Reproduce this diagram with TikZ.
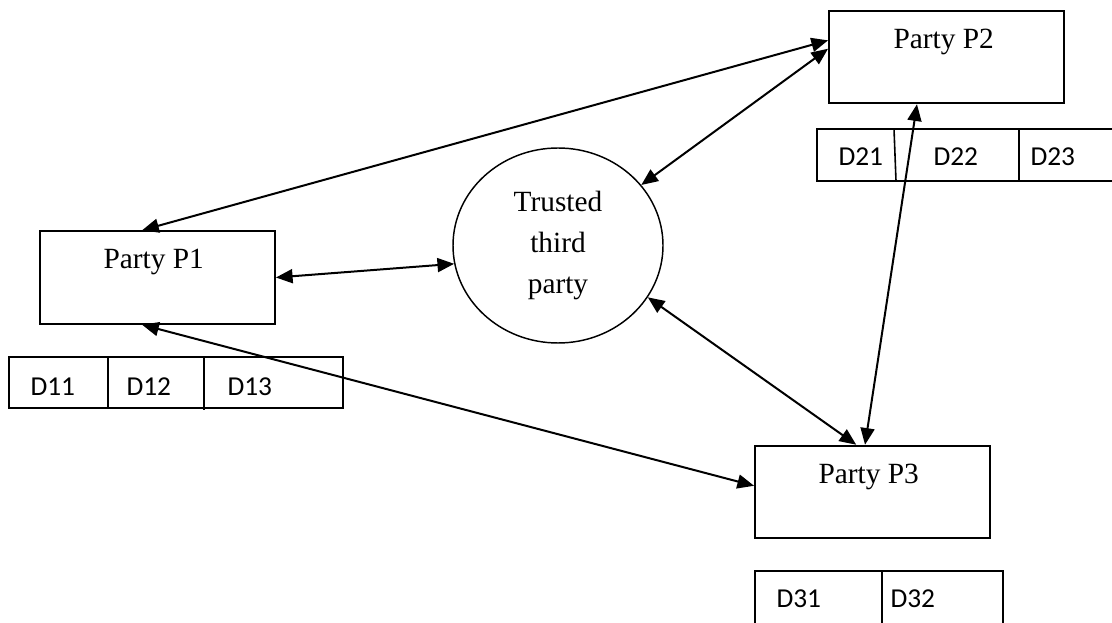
\documentclass[tikz,border=0pt]{standalone}
\usepackage{fontspec}
\setmainfont{Liberation Serif}
\newfontfamily\cellfont{Carlito}
\usetikzlibrary{arrows.meta,shapes.geometric}

\tikzset{every picture/.style={line width=0.75pt}}
\tikzset{
  partybox/.style={draw, rectangle, line width=1.4pt, minimum width=176.25pt, minimum height=69.5pt, inner sep=0pt},
  trustnode/.style={draw, ellipse, line width=1.1pt, minimum width=157.5pt, minimum height=146.25pt, inner sep=0pt, align=center, font=\fontsize{22pt}{30.75pt}\selectfont},
  partytext/.style={anchor=base west, inner sep=0.75pt, font=\fontsize{22pt}{26pt}\selectfont},
  celltext/.style={anchor=base west, inner sep=0.75pt, font=\cellfont\fontsize{20.5pt}{24pt}\selectfont},
  tablebox/.style={line width=1.2pt},
  link/.style={line width=1.5pt, {Triangle[length=12.5pt,width=10.5pt]}-{Triangle[length=12.5pt,width=10.5pt]}}
}

\begin{document}
\begin{tikzpicture}[x=0.75pt,y=0.75pt,yscale=-1,xscale=1]
\useasboundingbox (0,0) rectangle (1112,623);

%Shape: Rectangle [P1]
\node [partybox] (p1) at (157.5,277.5) {};
%Shape: Rectangle [P2]
\node [partybox] (p2) at (946.5,57) {};
%Shape: Rectangle [P3]
\node [partybox] (p3) at (872.5,492) {};
%Shape: Ellipse [TTP]
\node [trustnode] (ttp) at (558,245.5) {Trusted\\third\\party};

% Text Node
\node [partytext] (p1txt) at (102,269) {Party P1};
% Text Node
\node [partytext] (p2txt) at (892,49) {Party P2};
% Text Node
\node [partytext] (p3txt) at (817,483) {Party P3};

%Shape: Rectangle [table of P1]
\draw [tablebox] (9,357) -- (343,357) -- (343,408) -- (9,408) -- cycle ;
\draw [tablebox] (108,357) -- (108,408) ;
\draw [tablebox] (204,357) -- (204,410) ;
%Shape: Rectangle [table of P2]
\draw [tablebox] (817,129) -- (1116,129) -- (1116,181) -- (817,181) -- cycle ;
\draw [tablebox] (894,129) -- (896,181) ;
\draw [tablebox] (1019,129) -- (1019,181) ;
%Shape: Rectangle [table of P3]
\draw [tablebox] (755,571) -- (1003,571) -- (1003,630) -- (755,630) -- cycle ;
\draw [tablebox] (882,571) -- (882,630) ;

% Text Node
\node [celltext] (d11) at (29,395) {D11};
\node [celltext] (d12) at (125,395) {D12};
\node [celltext] (d13) at (226,395) {D13};
% Text Node
\node [celltext] (d21) at (837,166) {D21};
\node [celltext] (d22) at (932,166) {D22};
\node [celltext] (d23) at (1029,166) {D23};
% Text Node
\node [celltext] (d31) at (775,607) {D31};
\node [celltext] (d32) at (889,607) {D32};

%Straight Lines [links]
\draw [link] (p1.108) -- (p2.172) ;
\draw [link] (p1.east) -- (ttp.190) ;
\draw [link] (p1.252) -- (p3.177) ;
\draw [link] (ttp.36) -- (p2.176) ;
\draw [link] (ttp.330) -- (p3.109) ;
\draw [link] (p2.238) -- (p3.99) ;

\end{tikzpicture}
\end{document}
